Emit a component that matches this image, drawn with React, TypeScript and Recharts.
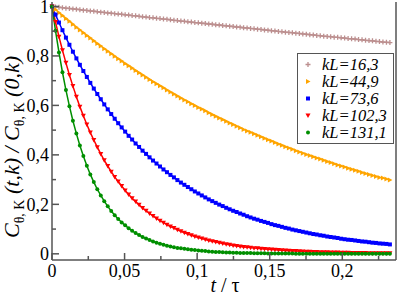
import { Legend, Line, LineChart, XAxis, YAxis } from 'recharts';

// normalised correlation C(t,k)/C(0,k), sampled every T_STEP
const T_STEP = 0.0024;

const kl16 = [
  1, 0.998, 0.997, 0.995, 0.993, 0.992, 0.99, 0.989, 0.987, 0.985,
  0.984, 0.982, 0.981, 0.979, 0.977, 0.976, 0.974, 0.973, 0.971, 0.969,
  0.968, 0.966, 0.965, 0.963, 0.962, 0.96, 0.958, 0.957, 0.955, 0.954,
  0.952, 0.951, 0.949, 0.948, 0.946, 0.944, 0.943, 0.941, 0.94, 0.938,
  0.937, 0.935, 0.934, 0.932, 0.931, 0.929, 0.928, 0.926, 0.925, 0.923,
  0.922, 0.92, 0.919, 0.917, 0.916, 0.914, 0.913, 0.911, 0.91, 0.908,
  0.907, 0.905, 0.904, 0.902, 0.901, 0.899, 0.898, 0.896, 0.895, 0.894,
  0.892, 0.891, 0.889, 0.888, 0.886, 0.885, 0.883, 0.882, 0.88, 0.879,
  0.878, 0.876, 0.875, 0.873, 0.872, 0.87, 0.869, 0.868, 0.866, 0.865,
  0.863, 0.862, 0.861, 0.859, 0.858, 0.856, 0.855, 0.854,
];

const kl45 = [
  1, 0.988, 0.975, 0.963, 0.951, 0.94, 0.928, 0.916, 0.905, 0.894,
  0.883, 0.872, 0.861, 0.85, 0.84, 0.829, 0.819, 0.809, 0.799, 0.789,
  0.779, 0.769, 0.76, 0.751, 0.741, 0.732, 0.723, 0.714, 0.705, 0.696,
  0.688, 0.679, 0.671, 0.662, 0.654, 0.646, 0.638, 0.63, 0.622, 0.615,
  0.607, 0.6, 0.592, 0.585, 0.578, 0.57, 0.563, 0.556, 0.549, 0.543,
  0.536, 0.529, 0.523, 0.516, 0.51, 0.503, 0.497, 0.491, 0.485, 0.479,
  0.473, 0.467, 0.461, 0.456, 0.45, 0.444, 0.439, 0.433, 0.428, 0.423,
  0.417, 0.412, 0.407, 0.402, 0.397, 0.392, 0.387, 0.383, 0.378, 0.373,
  0.369, 0.364, 0.359, 0.355, 0.351, 0.346, 0.342, 0.338, 0.334, 0.329,
  0.325, 0.321, 0.317, 0.313, 0.309, 0.306, 0.302, 0.298,
];

const kl74 = [
  1, 0.967, 0.935, 0.904, 0.874, 0.845, 0.817, 0.79, 0.764, 0.739,
  0.715, 0.691, 0.668, 0.646, 0.625, 0.604, 0.584, 0.565, 0.546, 0.528,
  0.511, 0.494, 0.477, 0.462, 0.446, 0.432, 0.417, 0.404, 0.39, 0.377,
  0.365, 0.353, 0.341, 0.33, 0.319, 0.309, 0.298, 0.288, 0.279, 0.27,
  0.261, 0.252, 0.244, 0.236, 0.228, 0.22, 0.213, 0.206, 0.199, 0.193,
  0.186, 0.18, 0.174, 0.169, 0.163, 0.158, 0.152, 0.147, 0.142, 0.138,
  0.133, 0.129, 0.125, 0.12, 0.116, 0.113, 0.109, 0.105, 0.102, 0.098,
  0.095, 0.092, 0.089, 0.086, 0.083, 0.08, 0.078, 0.075, 0.073, 0.07,
  0.068, 0.066, 0.064, 0.061, 0.059, 0.057, 0.056, 0.054, 0.052, 0.05,
  0.049, 0.047, 0.045, 0.044, 0.042, 0.041, 0.04, 0.038,
];

const kl102 = [
  1, 0.937, 0.878, 0.823, 0.772, 0.723, 0.678, 0.635, 0.595, 0.558,
  0.523, 0.49, 0.46, 0.431, 0.404, 0.378, 0.355, 0.332, 0.311, 0.292,
  0.274, 0.256, 0.24, 0.225, 0.211, 0.198, 0.185, 0.174, 0.163, 0.153,
  0.143, 0.134, 0.126, 0.118, 0.11, 0.104, 0.097, 0.091, 0.085, 0.08,
  0.075, 0.07, 0.066, 0.062, 0.058, 0.054, 0.051, 0.048, 0.045, 0.042,
  0.039, 0.037, 0.034, 0.032, 0.03, 0.028, 0.027, 0.025, 0.023, 0.022,
  0.02, 0.019, 0.018, 0.017, 0.016, 0.015, 0.014, 0.013, 0.012, 0.011,
  0.011, 0.01, 0.0094, 0.0088, 0.0083, 0.0078, 0.0073, 0.0068, 0.0064, 0.006,
  0.0056, 0.0053, 0.0049, 0.0046, 0.0043, 0.0041, 0.0038, 0.0036, 0.0033, 0.0031,
  0.0029, 0.0027, 0.0026, 0.0024, 0.0023, 0.0021, 0.002, 0.0019,
];

const kl131 = [
  1, 0.902, 0.814, 0.734, 0.662, 0.597, 0.538, 0.486, 0.438, 0.395,
  0.356, 0.321, 0.29, 0.261, 0.236, 0.213, 0.192, 0.173, 0.156, 0.141,
  0.127, 0.115, 0.103, 0.093, 0.084, 0.076, 0.068, 0.062, 0.056, 0.05,
  0.045, 0.041, 0.037, 0.033, 0.03, 0.027, 0.024, 0.022, 0.02, 0.018,
  0.016, 0.015, 0.013, 0.012, 0.011, 0.0096, 0.0087, 0.0078, 0.0071, 0.0064,
  0.0057, 0.0052, 0.0047, 0.0042, 0.0038, 0.0034, 0.0031, 0.0028, 0.0025, 0.0023,
  0.002, 0.0018, 0.0017, 0.0015, 0.0014, 0.0012, 0.0011, 0.001, 0.0009, 0.0008,
  0.0007, 0.0006, 0.0006, 0.0005, 0.0005, 0.0004, 0.0004, 0.0003, 0.0003, 0.0003,
  0.0003, 0.0002, 0.0002, 0.0002, 0.0002, 0.0002, 0.0001, 0.0001, 0.0001, 0.0001,
  0.0001, 0.0001, 0.0001, 0.0001, 0.0001, 0.0001, 0.0001, 0.0001,
];

const xTicks = [0, 0.025, 0.05, 0.075, 0.1, 0.125, 0.15, 0.175, 0.2, 0.225];
const yTicks = [0, 0.1, 0.2, 0.3, 0.4, 0.5, 0.6, 0.7, 0.8, 0.9, 1];

type Shape = 'plus' | 'right' | 'square' | 'down' | 'circle';

const series: { key: string; name: string; color: string; shape: Shape; values: number[] }[] = [
  { key: 'kl16', name: 'kL=16,3', color: '#bc8f8f', shape: 'plus', values: kl16 },
  { key: 'kl45', name: 'kL=44,9', color: '#ffa500', shape: 'right', values: kl45 },
  { key: 'kl74', name: 'kL=73,6', color: '#0000ff', shape: 'square', values: kl74 },
  { key: 'kl102', name: 'kL=102,3', color: '#ff0000', shape: 'down', values: kl102 },
  { key: 'kl131', name: 'kL=131,1', color: '#008f00', shape: 'circle', values: kl131 },
];

const data = kl16.map((_, i) => {
  const row: Record<string, number> = { t: Number((i * T_STEP).toFixed(4)) };
  series.forEach((s) => (row[s.key] = s.values[i]));
  return row;
});

const AXIS = '#555';
const SERIF = 'Liberation Serif';
const fmt = (v: number) => String(v).replace('.', ',');

function Marker({ shape, cx, cy, color }: { shape: Shape; cx: number; cy: number; color: string }) {
  switch (shape) {
    case 'plus':
      return <path d={`M${cx - 2.5},${cy}h5M${cx},${cy - 2.5}v5`} stroke={color} strokeWidth={1.3} />;
    case 'right':
      return <path d={`M${cx - 2},${cy - 2.5}L${cx + 2.5},${cy}L${cx - 2},${cy + 2.5}Z`} fill={color} />;
    case 'square':
      return <rect x={cx - 2} y={cy - 2} width={4} height={4} fill={color} />;
    case 'down':
      return <path d={`M${cx - 2.5},${cy - 2}L${cx + 2.5},${cy - 2}L${cx},${cy + 2.5}Z`} fill={color} />;
    default:
      return <circle cx={cx} cy={cy} r={2} fill={color} />;
  }
}

function XTick({ x, y, payload }: any) {
  const v = payload.value as number;
  const major = Math.round(v * 1000) % 50 === 0;
  return (
    <g>
      <line x1={x} y1={y} x2={x} y2={y - (major ? 7 : 4)} stroke={AXIS} strokeWidth={1.5} />
      {major && (
        <text x={x} y={y + 17} textAnchor="middle" fontSize={18} fontFamily={SERIF} fill="#000">
          {fmt(v)}
        </text>
      )}
    </g>
  );
}

function YTick({ x, y, payload }: any) {
  const v = payload.value as number;
  const major = Math.round(v * 10) % 2 === 0;
  return (
    <g>
      <line x1={x} y1={y} x2={x + (major ? 7 : 4)} y2={y} stroke={AXIS} strokeWidth={1.5} />
      {major && (
        <text x={x - 3} y={y} dy="0.35em" textAnchor="end" fontSize={18} fontFamily={SERIF} fill="#000">
          {fmt(v)}
        </text>
      )}
    </g>
  );
}

function RTick({ x, y, payload }: any) {
  const major = Math.round((payload.value as number) * 10) % 2 === 0;
  return <line x1={x} y1={y} x2={x - (major ? 7 : 4)} y2={y} stroke={AXIS} strokeWidth={1.5} />;
}

function YLabel({ viewBox }: any) {
  const cx = viewBox.x + 19;
  const cy = viewBox.y + viewBox.height / 2 + 16;
  const sub = { fontSize: 14, fontStyle: 'normal' as const };
  return (
    <text x={cx} y={cy} transform={`rotate(-90 ${cx} ${cy})`} textAnchor="middle" fontFamily={SERIF} fontSize={22} fontStyle="italic" fill="#000">
      <tspan>C</tspan>
      <tspan dy={5} {...sub}>θ, K</tspan>
      <tspan dy={-5}> (t,k) / C</tspan>
      <tspan dy={5} {...sub}>θ, K</tspan>
      <tspan dy={-5}> (0,k)</tspan>
    </text>
  );
}

function XLabel({ viewBox }: any) {
  return (
    <text x={viewBox.x + viewBox.width / 2 + 1} y={viewBox.y + 32} textAnchor="middle" fontFamily={SERIF} fontSize={20} fill="#000">
      <tspan fontStyle="italic">t</tspan> / τ
    </text>
  );
}

function LegendBox() {
  return (
    <div style={{ width: 97, height: 91, border: `1px solid ${AXIS}`, background: '#fff', boxSizing: 'border-box', paddingTop: 1.5 }}>
      {series.map((s) => (
        <div key={s.key} style={{ display: 'flex', alignItems: 'center', height: 17, overflow: 'visible' }}>
          <svg width={24} height={17} style={{ display: 'block', flex: 'none' }}>
            <Marker shape={s.shape} cx={10} cy={8.5} color={s.color} />
          </svg>
          <span style={{ fontFamily: SERIF, fontStyle: 'italic', fontSize: 16.5, lineHeight: '15px', color: '#000' }}>{s.name}</span>
        </div>
      ))}
    </div>
  );
}

export default function App() {
  return (
    <div style={{ position: 'absolute', left: 0, top: 0, background: '#fff' }}>
      <LineChart width={399} height={296} data={data} margin={{ top: 2, right: 0, bottom: 0, left: 0 }}>
        <XAxis
          xAxisId="b"
          dataKey="t"
          type="number"
          domain={[0, 0.237]}
          ticks={xTicks}
          interval={0}
          height={36}
          tickSize={0}
          tickMargin={0}
          tickLine={false}
          axisLine={{ stroke: AXIS, strokeWidth: 1.5 }}
          tick={<XTick />}
          label={<XLabel />}
        />
        <XAxis
          xAxisId="top"
          orientation="top"
          dataKey="t"
          type="number"
          domain={[0, 0.237]}
          height={0}
          tick={false}
          tickLine={false}
          axisLine={{ stroke: AXIS, strokeWidth: 1.5 }}
        />
        <YAxis
          yAxisId="l"
          type="number"
          domain={[-0.025, 1.018]}
          ticks={yTicks}
          interval={0}
          width={52}
          tickSize={0}
          tickMargin={0}
          tickLine={false}
          axisLine={{ stroke: AXIS, strokeWidth: 1.5 }}
          tick={<YTick />}
          label={<YLabel />}
        />
        <YAxis
          yAxisId="r"
          orientation="right"
          type="number"
          domain={[-0.025, 1.018]}
          ticks={yTicks}
          interval={0}
          width={3}
          tickSize={0}
          tickMargin={0}
          tickLine={false}
          axisLine={{ stroke: AXIS, strokeWidth: 1.5 }}
          tick={<RTick />}
        />
        <Legend
          layout="vertical"
          align="center"
          verticalAlign="middle"
          wrapperStyle={{ left: 297, top: 53, width: 97, height: 91 }}
          content={<LegendBox />}
        />
        {series.map((s) => (
          <Line
            key={s.key}
            xAxisId="b"
            yAxisId="l"
            dataKey={s.key}
            name={s.name}
            type="linear"
            stroke={s.color}
            strokeWidth={1.5}
            isAnimationActive={false}
            dot={(p: any) => <Marker key={`${s.key}-${p.index}`} shape={s.shape} cx={p.cx} cy={p.cy} color={s.color} />}
            activeDot={false}
          />
        ))}
      </LineChart>
    </div>
  );
}
